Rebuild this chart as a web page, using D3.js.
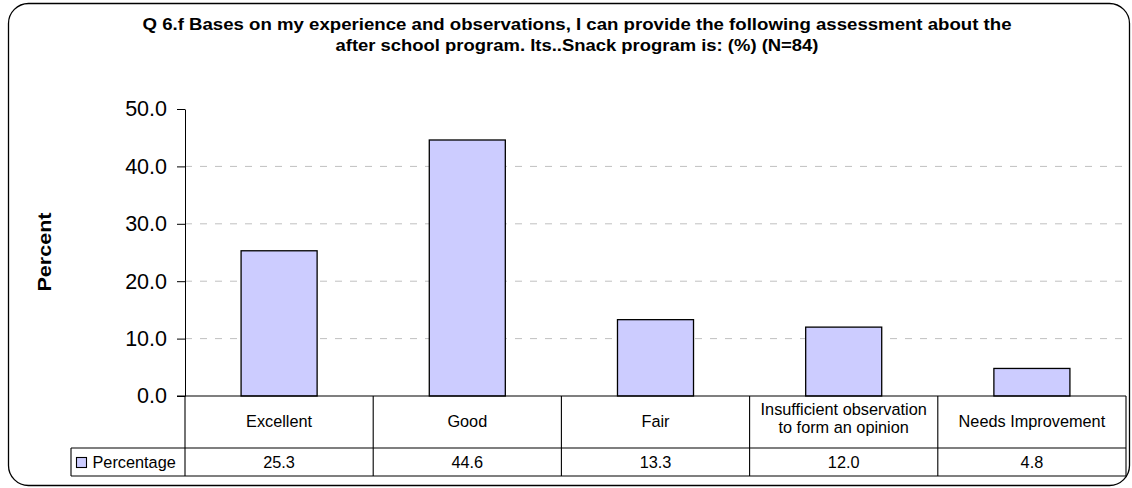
<!DOCTYPE html>
<html><head><meta charset="utf-8">
<script src="https://cdn.jsdelivr.net/npm/d3@7"></script>
<style>
html,body{margin:0;padding:0;background:#fff;}
svg{display:block;font-family:"Liberation Sans",Arial,sans-serif;}
</style></head>
<body>
<svg id="chart" width="1132" height="488"></svg>
<script>
const titleLines = ["Q 6.f Bases on my experience and observations, I can provide the following assessment about the",
                    "after school program. Its..Snack program is: (%) (N=84)"];
const categories = ["Excellent", "Good", "Fair", "Insufficient observation\nto form an opinion", "Needs Improvement"];
const seriesName = "Percentage";
const values = [25.3, 44.6, 13.3, 12.0, 4.8];
const yTicks = [0, 10, 20, 30, 40, 50];
const yLabel = "Percent";

const svg = d3.select("#chart");
const L = 185, R = 1126, T = 109, B = 396;
const catRowB = 448, dataRowB = 476, legendL = 71;

// frame
svg.append("rect").attr("x", 8.5).attr("y", 3.5).attr("width", 1121).attr("height", 482)
  .attr("rx", 20).attr("ry", 20).attr("fill", "#fff").attr("stroke", "#000").attr("stroke-width", 1.3);

// title
const titleWidths = [869, 483];
svg.append("g").selectAll("text").data(titleLines).join("text")
  .attr("x", 577).attr("y", (d, i) => 30 + i * 21)
  .attr("text-anchor", "middle").attr("font-weight", "bold").attr("font-size", 16.5)
  .attr("textLength", (d, i) => titleWidths[i]).attr("lengthAdjust", "spacingAndGlyphs")
  .text(d => d);

const x = d3.scaleBand().domain(categories).range([L, R]).padding(0);
const y = d3.scaleLinear().domain([0, 50]).range([B, T]);

// gridlines
svg.append("g").selectAll("line").data(yTicks.filter(t => t > 0 && t < 50)).join("line")
  .attr("x1", L).attr("x2", R).attr("y1", d => y(d)).attr("y2", d => y(d))
  .attr("stroke", "#c0c0c0").attr("stroke-dasharray", "7,8").attr("stroke-width", 1);

// y axis
const yAxis = d3.axisLeft(y).tickValues(yTicks).tickFormat(d3.format(".1f")).tickSize(8).tickSizeOuter(0);
const ga = svg.append("g").attr("transform", `translate(${L},0)`).call(yAxis);
ga.select(".domain").attr("stroke", "#000");
ga.selectAll(".tick line").attr("stroke", "#000");
ga.selectAll(".tick text").attr("font-size", 21.5).attr("fill", "#000").attr("x", -18)
  .attr("font-family", "Liberation Sans, Arial, sans-serif");

// y label
svg.append("text").attr("transform", "translate(51,252) rotate(-90)")
  .attr("text-anchor", "middle").attr("font-weight", "bold").attr("font-size", 19)
  .attr("textLength", 79).attr("lengthAdjust", "spacingAndGlyphs").text(yLabel);

// bars
const bw = x.bandwidth() * 0.404;
svg.append("g").selectAll("rect").data(values).join("rect")
  .attr("x", (d, i) => x(categories[i]) + (x.bandwidth() - bw) / 2)
  .attr("y", d => y(d)).attr("width", bw).attr("height", d => y(0) - y(d))
  .attr("fill", "#ccccff").attr("stroke", "#000").attr("stroke-width", 1.3);

// table
const tg = svg.append("g").attr("stroke", "#000").attr("stroke-width", 1.1);
tg.append("line").attr("x1", L - 8).attr("x2", R).attr("y1", B).attr("y2", B);
tg.append("line").attr("x1", legendL).attr("x2", R).attr("y1", catRowB).attr("y2", catRowB);
tg.append("line").attr("x1", legendL).attr("x2", R).attr("y1", dataRowB).attr("y2", dataRowB);
tg.append("line").attr("x1", legendL).attr("x2", legendL).attr("y1", catRowB).attr("y2", dataRowB);
const edges = categories.map(c => x(c)).concat([R]);
tg.selectAll(".v").data(edges).join("line").attr("class", "v")
  .attr("x1", d => d).attr("x2", d => d).attr("y1", B).attr("y2", dataRowB);

// category labels
const cg = svg.append("g");
categories.forEach(c => {
  const lines = c.split("\n");
  const cx = x(c) + x.bandwidth() / 2;
  const cy = lines.length > 1 ? 418 : 421;
  lines.forEach((ln, j) => {
    cg.append("text").attr("x", cx).attr("y", cy + (j - (lines.length - 1) / 2) * 18 + 6)
      .attr("text-anchor", "middle").attr("font-size", 16.3).text(ln);
  });
});

// values
svg.append("g").selectAll("text").data(values).join("text")
  .attr("x", (d, i) => x(categories[i]) + x.bandwidth() / 2)
  .attr("y", (catRowB + dataRowB) / 2 + 6)
  .attr("text-anchor", "middle").attr("font-size", 16.3).text(d => d3.format(".1f")(d));

// legend cell
svg.append("rect").attr("x", 76.5).attr("y", 457.5).attr("width", 10).attr("height", 10)
  .attr("fill", "#ccccff").attr("stroke", "#000").attr("stroke-width", 1.1);
svg.append("text").attr("x", 92.5).attr("y", (catRowB + dataRowB) / 2 + 6)
  .attr("font-size", 16.3).text(seriesName);
</script>
</body></html>
